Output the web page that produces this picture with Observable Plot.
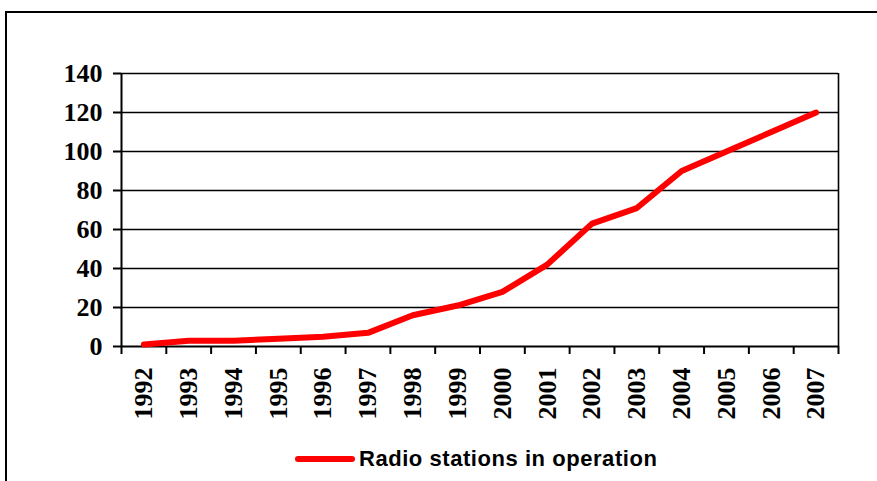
<!DOCTYPE html>
<html>
<head>
<meta charset="utf-8">
<script src="https://cdn.jsdelivr.net/npm/d3@7"></script>
<script src="https://cdn.jsdelivr.net/npm/@observablehq/plot@0.6"></script>
<style>
  html, body { margin: 0; padding: 0; background: #fff; width: 877px; height: 481px; overflow: hidden; }
  #wrap { position: relative; width: 877px; height: 481px; }
  #frame { position: absolute; left: 5px; top: 11px; width: 900px; height: 520px; border: 2px solid #000; box-sizing: border-box; }
  #chart { position: absolute; left: 0; top: 0; }
  #legend { position: absolute; left: 295px; top: 446px; height: 26px; display: flex; align-items: center; font-family: "Liberation Sans", Arial, sans-serif; font-weight: bold; font-size: 22px; color: #000; letter-spacing: 0.55px; }
  #legend .sw { width: 60px; height: 6px; background: #ff0000; border-radius: 3px; margin-right: 4px; }
</style>
</head>
<body>
<div id="wrap">
  <div id="frame"></div>
  <div id="chart"></div>
  <div id="legend"><span class="sw"></span><span id="legendText"></span></div>
</div>
<script>
const years = [1992, 1993, 1994, 1995, 1996, 1997, 1998, 1999, 2000, 2001, 2002, 2003, 2004, 2005, 2006, 2007];
const stations = [1, 3, 3, 4, 5, 7, 16, 21, 28, 42, 63, 71, 90, 100, 110, 120];
const yTicks = [0, 20, 40, 60, 80, 100, 120, 140];
const seriesName = "Radio stations in operation";

const data = years.map((y, i) => ({year: y, value: stations[i]}));
const bounds = d3.range(years[0] - 0.5, years[years.length - 1] + 1, 1);
const gridTicks = yTicks.filter(d => d > 0);

const chart = Plot.plot({
  width: 877,
  height: 481,
  marginLeft: 121,
  marginRight: 39,
  marginTop: 73,
  marginBottom: 135,
  style: {fontFamily: "'Liberation Serif', 'Times New Roman', serif", fontWeight: "bold", fontSize: "26px", color: "#000", background: "transparent"},
  x: {type: "linear", domain: [bounds[0], bounds[bounds.length - 1]], label: null},
  y: {domain: [0, 140], label: null},
  marks: [
    Plot.ruleY(gridTicks, {stroke: "#000", strokeWidth: 1.5}),
    Plot.ruleX([bounds[bounds.length - 1]], {y1: 0, y2: 140, stroke: "#000", strokeWidth: 1.6}),
    Plot.axisY({ticks: yTicks, tickSize: 8, tickPadding: 11, strokeWidth: 2, stroke: "#000", fill: "#000", label: null}),
    Plot.axisX({ticks: bounds, tickSize: 8, tickFormat: () => "", strokeWidth: 2, stroke: "#000", label: null}),
    Plot.axisX({ticks: years, tickSize: 0, tickPadding: 21, tickRotate: -90, tickFormat: d => String(d), fill: "#000", label: null}),
    Plot.ruleX([bounds[0]], {y1: 0, y2: 140, stroke: "#000", strokeWidth: 2}),
    Plot.ruleY([0], {stroke: "#000", strokeWidth: 2}),
    Plot.line(data, {x: "year", y: "value", stroke: "#ff0000", strokeWidth: 6, strokeLinecap: "round", strokeLinejoin: "round"})
  ]
});
document.getElementById("chart").appendChild(chart);
document.getElementById("legendText").textContent = seriesName;
</script>
</body>
</html>
